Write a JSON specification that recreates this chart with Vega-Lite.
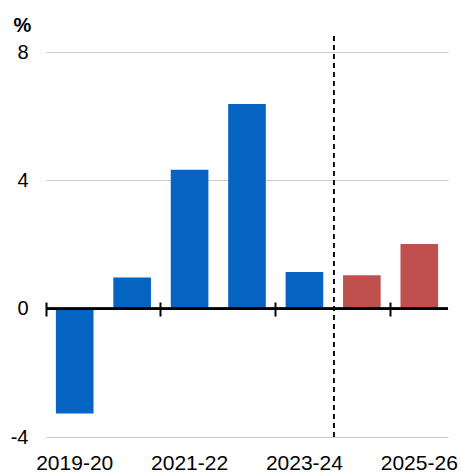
{
  "$schema": "https://vega.github.io/schema/vega-lite/v6.json",
  "width": 402,
  "height": 401,
  "autosize": "none",
  "padding": {"left": 46, "top": 36, "right": 13, "bottom": 38},
  "background": "white",
  "config": {
    "font": "Liberation Sans",
    "view": {"stroke": null},
    "axis": {"labelFont": "Liberation Sans", "titleFont": "Liberation Sans", "labelColor": "#000000", "titleColor": "#000000"}
  },
  "data": {
    "values": [
      {"year": "2019-20", "value": -3.27, "kind": "actual"},
      {"year": "2020-21", "value": 0.97, "kind": "actual"},
      {"year": "2021-22", "value": 4.33, "kind": "actual"},
      {"year": "2022-23", "value": 6.38, "kind": "actual"},
      {"year": "2023-24", "value": 1.14, "kind": "actual"},
      {"year": "2024-25", "value": 1.04, "kind": "forecast"},
      {"year": "2025-26", "value": 2.02, "kind": "forecast"}
    ]
  },
  "layer": [
    {
      "mark": {"type": "bar"},
      "encoding": {
        "x": {
          "field": "year",
          "type": "nominal",
          "sort": null,
          "scale": {"paddingInner": 0.345, "paddingOuter": 0.1725},
          "axis": {
            "orient": "bottom",
            "title": null,
            "ticks": false,
            "domain": false,
            "grid": false,
            "labelAngle": 0,
            "labelFontSize": 21,
            "labelPadding": 15,
            "labelExpr": "indexof(['2019-20','2021-22','2023-24','2025-26'], datum.value) >= 0 ? datum.value : ''"
          }
        },
        "y": {
          "field": "value",
          "type": "quantitative",
          "scale": {"domain": [-4, 8.5], "nice": false},
          "axis": {
            "values": [-4, 0, 4, 8],
            "grid": true,
            "gridColor": "#cccccc",
            "gridWidth": 1,
            "ticks": false,
            "domain": false,
            "labelFontSize": 20,
            "labelPadding": 18,
            "labelExpr": "toString(datum.value)",
            "title": "%",
            "titleAngle": 0,
            "titleAlign": "left",
            "titleBaseline": "alphabetic",
            "titleX": -33,
            "titleY": -5,
            "titleFontSize": 20,
            "titleFontWeight": "bold"
          }
        },
        "color": {
          "field": "kind",
          "type": "nominal",
          "scale": {"domain": ["actual", "forecast"], "range": ["#0563C1", "#C0504D"]},
          "legend": null
        }
      }
    },
    {
      "mark": {"type": "rule", "color": "#000000", "strokeWidth": 2},
      "encoding": {"y": {"datum": 0}}
    },
    {
      "mark": {"type": "rule", "color": "#000000", "strokeWidth": 1.2, "strokeDash": [5, 4]},
      "encoding": {
        "x": {
          "datum": "2024-25",
          "type": "nominal",
          "bandPosition": -0.25,
          "axis": {
            "orient": "bottom",
            "title": null,
            "labels": false,
            "domain": false,
            "grid": false,
            "offset": -135,
            "tickSize": 14,
            "tickWidth": 2,
            "tickColor": "#000000",
            "bandPosition": -0.263,
            "values": ["2019-20", "2021-22", "2023-24", "2025-26"]
          }
        }
      }
    }
  ],
  "resolve": {"axis": {"x": "independent"}}
}
